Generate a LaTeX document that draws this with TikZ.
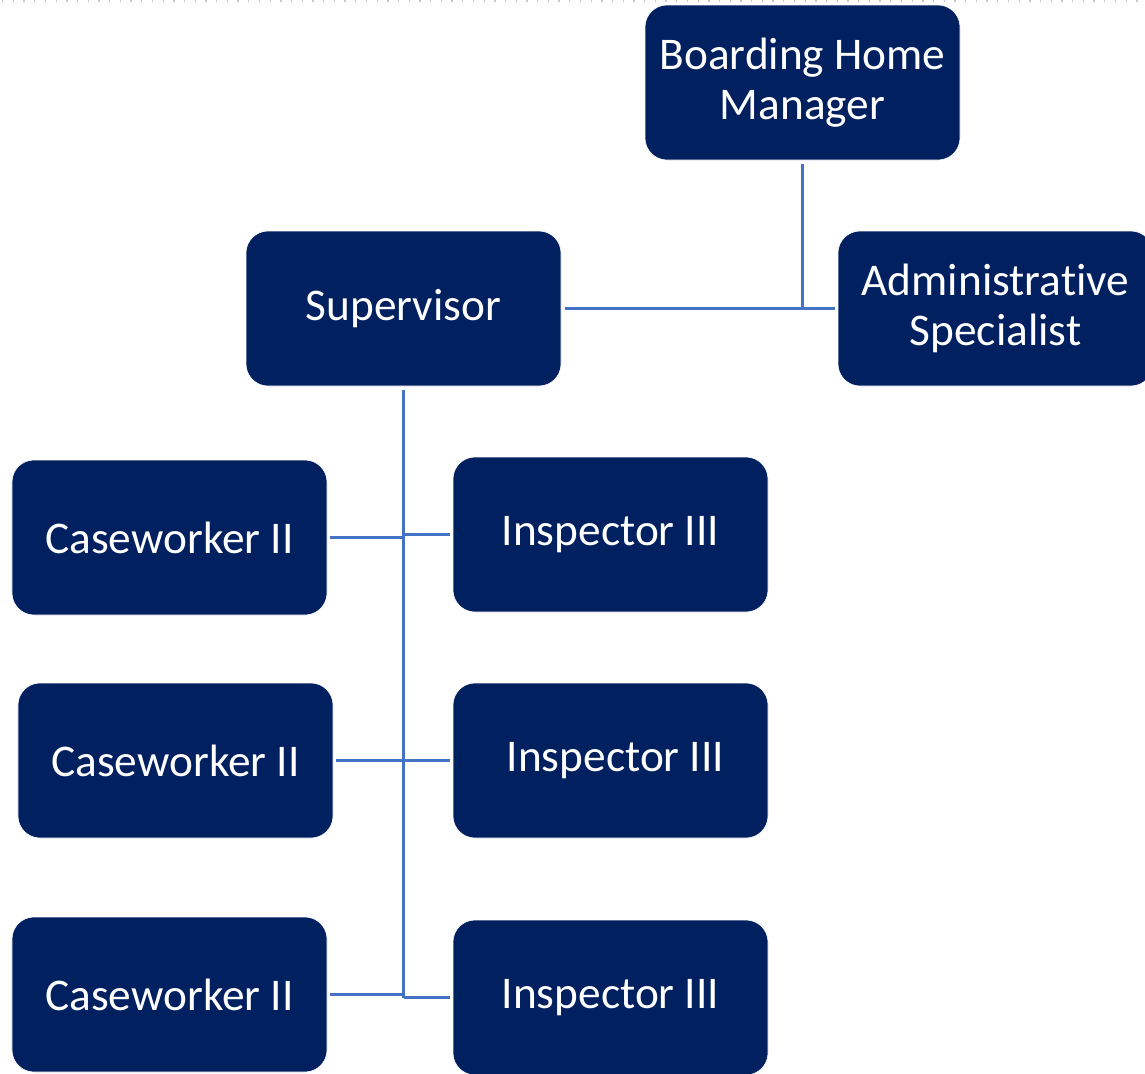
\documentclass[tikz,border=0pt]{standalone}
\usepackage{fontspec}
\setmainfont{Carlito}[Ligatures=NoCommon]
\definecolor{navy}{RGB}{0,32,96}
\definecolor{connblue}{RGB}{68,114,196}
\begin{document}
\begin{tikzpicture}[x=1bp,y=-1bp,
  box/.style={fill=navy, draw=white, line width=0.6bp, rounded corners=22bp,
    minimum width=315bp, minimum height=155bp, inner sep=0pt,
    text=white, align=center, font=\fontsize{45.5}{50}\selectfont},
  conn/.style={draw=connblue, line width=2.2bp}]
\useasboundingbox (0,0) rectangle (1145,1074);
\clip (0,0) rectangle (1145,1074);
\draw[gray!45, line width=1.3bp, dash pattern=on 1.3bp off 9.4bp] (2,1) -- (1145,1);
\node[box] (mgr) at (802.5,82.5) {Boarding Home\\Manager};
\node[box] (sup) at (403.5,308.5) {Supervisor};
\node[box] (adm) at (995.5,308.5) {Administrative\\Specialist};
\node[box] (cw1) at (169.5,537.5) {Caseworker II};
\node[box] (in1) at (610.5,534.5) {Inspector III};
\node[box] (cw2) at (175.5,760.5) {Caseworker II};
\node[box] (in2) at (610.5,760.5) {\hspace*{10bp}Inspector III};
\node[box] (cw3) at (169.5,994.5) {Caseworker II};
\node[box] (in3) at (610.5,997.5) {Inspector III};
% connectors
\draw[conn] ([yshift=-4bp]mgr.south) -- (mgr.south |- sup.east);
\draw[conn] ([xshift=4bp]sup.east) -- ([xshift=-3bp]adm.west);
\draw[conn] ([yshift=-4bp]sup.south) -- (sup.south |- in3.center);
\draw[conn] ([xshift=3bp]cw1.east) -- (cw1.east -| sup.south);
\draw[conn] (in1.west -| sup.south) -- ([xshift=-3bp]in1.west);
\draw[conn] ([xshift=3bp]cw2.east) -- (cw2.east -| sup.south);
\draw[conn] (in2.west -| sup.south) -- ([xshift=-3bp]in2.west);
\draw[conn] ([xshift=3bp]cw3.east) -- (cw3.east -| sup.south);
\draw[conn] (in3.west -| sup.south) -- ([xshift=-3bp]in3.west);
\end{tikzpicture}
\end{document}
